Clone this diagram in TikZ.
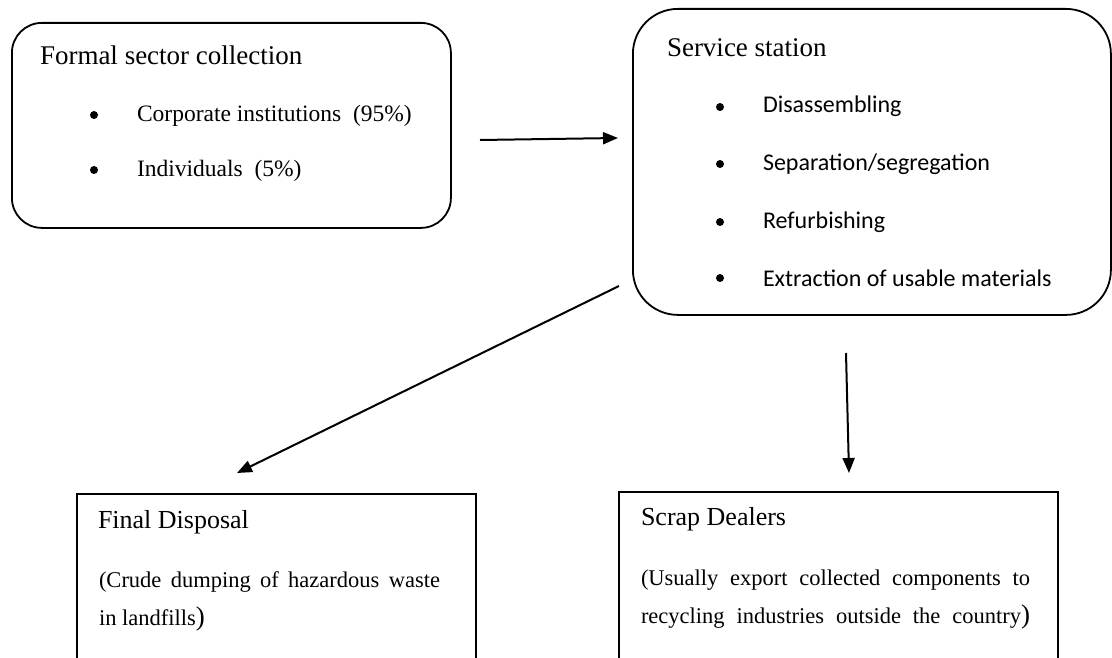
\documentclass[tikz,border=0pt]{standalone}
\usepackage{fontspec}
\setmainfont{Liberation Serif}
\newfontfamily\calibri{Carlito}
\usetikzlibrary{arrows.meta}
\tikzset{
  boxline/.style={draw=black, line width=1.8pt, anchor=north west, inner sep=0pt},
  roundbox/.style={boxline},
  txt/.style={anchor=base west, inner sep=0pt, outer sep=0pt},
  ttl/.style={txt, font=\fontsize{27}{32}\selectfont},
  ttlb/.style={txt, font=\fontsize{26}{31}\selectfont},
  itm/.style={txt, font=\fontsize{23.5}{28}\selectfont},
  svc/.style={txt, font=\calibri\fontsize{24}{29}\selectfont},
  dsc/.style={txt, font=\fontsize{22.5}{27}\selectfont},
  flow/.style={line width=2pt, -{Triangle[length=15pt,width=12pt]}},
  dot/.style={fill=black}
}
\newcommand{\bigparen}{{\fontsize{27}{27}\selectfont)}}
\begin{document}
\begin{tikzpicture}[x=1pt,y=-1pt]
\useasboundingbox (0,0) rectangle (1112,658);
\clip (0,0) rectangle (1112,658);

% boxes
\node[roundbox, rounded corners=30pt, minimum width=439pt, minimum height=205pt] (formal) at (11,22) {};
\node[roundbox, rounded corners=45pt, minimum width=478pt, minimum height=306pt] (service) at (632,8) {};
\node[boxline, minimum width=399pt, minimum height=172pt] (disposal) at (76,493) {};
\node[boxline, minimum width=439pt, minimum height=174pt] (scrap) at (618,491) {};

% box 1 text
\node[ttl] (t1) at (40,65) {Formal sector collection};
\fill[dot] (94,115) circle (4pt);
\node[itm] (t1a) at (137,122) {Corporate institutions\ \ (95\%)};
\fill[dot] (94,170) circle (4pt);
\node[itm] (t1b) at (137,177) {Individuals\ \ (5\%)};

% box 2 text
\node[ttl] (t2) at (667,57) {Service station};
\fill[dot] (720,107) circle (4pt);
\node[svc] (t2a) at (763,113) {Disassembling};
\fill[dot] (720,164) circle (4pt);
\node[svc] (t2b) at (763,171) {Separation/segregation};
\fill[dot] (720,222) circle (4pt);
\node[svc] (t2c) at (763,229) {Refurbishing};
\fill[dot] (720,278) circle (4pt);
\node[svc] (t2d) at (763,286) {Extraction of usable materials};

% box 3 text
\node[ttlb] (t3) at (98,528) {Final Disposal};
\node[dsc] (t3a) at (99,587) {\makebox[341pt][s]{(Crude dumping of hazardous waste}};
\node[dsc] (t3b) at (99,625) {in landfills\bigparen};

% box 4 text
\node[ttlb] (t4) at (641,525) {Scrap Dealers};
\node[dsc] (t4a) at (641,585) {\makebox[389pt][s]{(Usually export collected components to}};
\node[dsc] (t4b) at (641,623) {\makebox[389pt][s]{recycling industries outside the country\bigparen}};

% connectors
\coordinate (a1s) at (480,140);
\coordinate (a1e) at (618,138);
\coordinate (a2s) at (619,286);
\coordinate (a2e) at (237,473);
\coordinate (a3s) at (846,353);
\coordinate (a3e) at (849,473);
\draw[flow] (a1s) -- (a1e);
\draw[flow] (a2s) -- (a2e);
\draw[flow] (a3s) -- (a3e);
\end{tikzpicture}
\end{document}
